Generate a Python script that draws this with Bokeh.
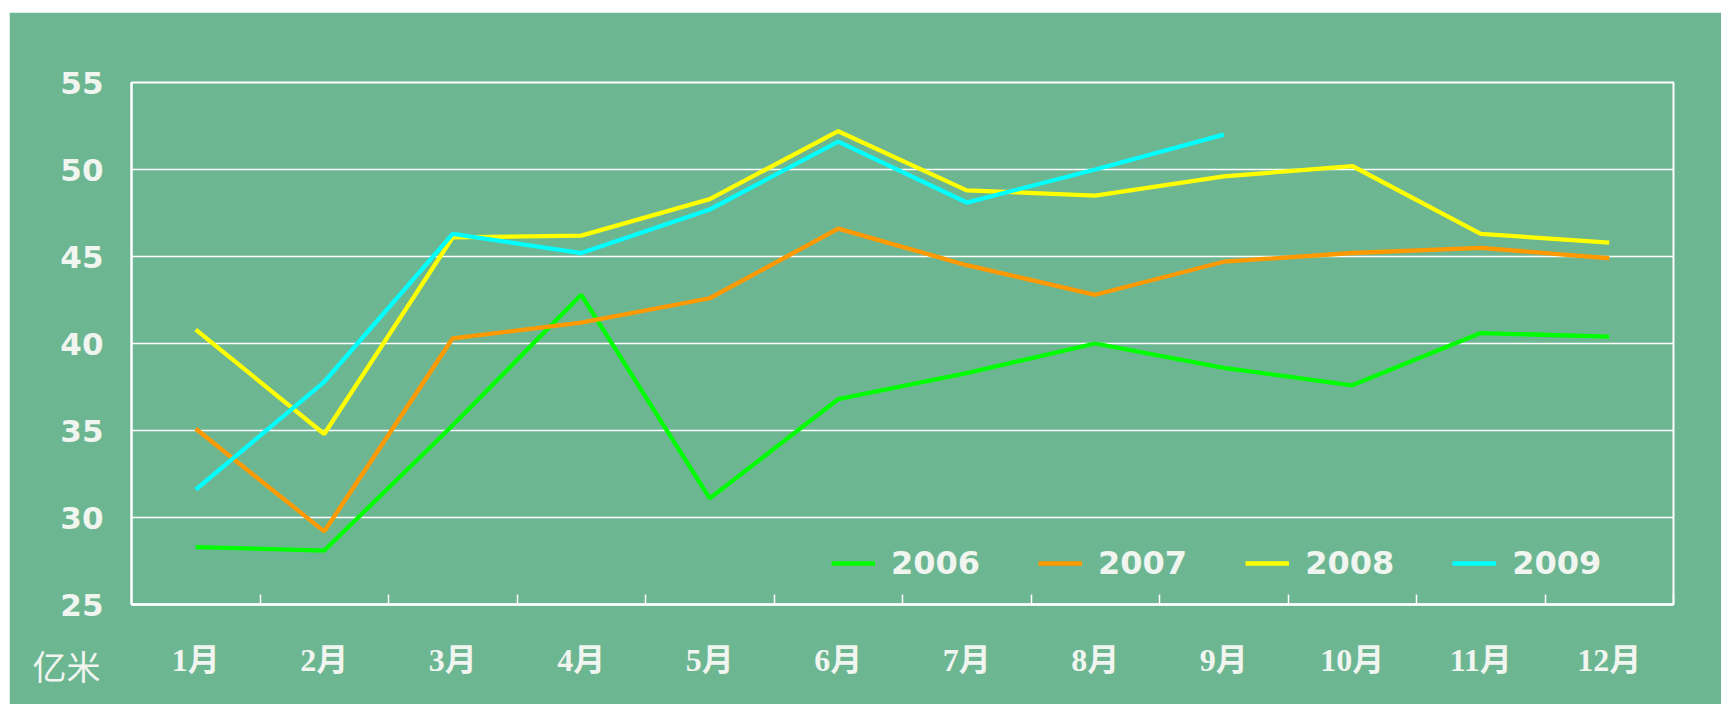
from bokeh.plotting import figure
from bokeh.models import FixedTicker, Legend, LegendItem, Range1d, Spacer, Title
from bokeh.layouts import column, row
from bokeh.embed import file_html
from bokeh.resources import INLINE
import numpy as np

months = ["1月", "2月", "3月", "4月", "5月", "6月", "7月", "8月", "9月", "10月", "11月", "12月"]
y2006 = [28.3, 28.1, 35.3, 42.8, 31.1, 36.8, 38.3, 40.0, 38.6, 37.6, 40.6, 40.4]
y2007 = [35.1, 29.2, 40.3, 41.2, 42.6, 46.6, 44.5, 42.8, 44.7, 45.2, 45.5, 44.9]
y2008 = [40.8, 34.8, 46.1, 46.2, 48.3, 52.2, 48.8, 48.5, 49.6, 50.2, 46.3, 45.8]
y2009 = [31.6, 37.8, 46.3, 45.2, 47.7, 51.6, 48.1, 50.0, 52.0]
years = ["2006", "2007", "2008", "2009"]
yticks = [25, 30, 35, 40, 45, 50, 55]
unit_label = "亿米"

BG = "#6db692"
TXT = "#f0f5f0"
colors = ["#00ff00", "#ff9900", "#ffff00", "#00ffff"]

p = figure(width=1712, height=692, output_backend="svg", toolbar_location=None,
           x_range=Range1d(0, len(months)), y_range=Range1d(25, 55),
           min_border_left=122, min_border_right=48, min_border_top=70, min_border_bottom=100)
p.background_fill_color = BG
p.border_fill_color = BG
p.outline_line_color = "white"
p.outline_line_width = 2

xs = np.arange(len(months)) + 0.5

p.xaxis.ticker = FixedTicker(ticks=list(xs), minor_ticks=list(range(1, len(months) + 1)))
p.xaxis.major_label_overrides = {float(x): m for x, m in zip(xs, months)}
p.xaxis.major_tick_in = 0
p.xaxis.major_tick_out = 0
p.xaxis.minor_tick_in = 10
p.xaxis.minor_tick_out = 0
p.xaxis.minor_tick_line_color = "white"
p.xaxis.minor_tick_line_width = 1.5
p.xaxis.axis_line_color = "white"
p.xaxis.axis_line_width = 2.5
p.xaxis.major_label_standoff = 37
p.xaxis.major_label_text_font = "'Liberation Serif', 'Noto Sans CJK SC'"
p.xaxis.major_label_text_font_style = "bold"
p.xaxis.major_label_text_font_size = "32px"
p.xaxis.major_label_text_color = TXT

p.yaxis.ticker = FixedTicker(ticks=yticks)
p.yaxis.major_tick_in = 0
p.yaxis.major_tick_out = 0
p.yaxis.minor_tick_line_color = None
p.yaxis.axis_line_color = "white"
p.yaxis.axis_line_width = 2
p.yaxis.major_label_standoff = 28
p.yaxis.major_label_text_font = "DejaVu Sans"
p.yaxis.major_label_text_font_style = "bold"
p.yaxis.major_label_text_font_size = "31px"
p.yaxis.major_label_text_color = TXT

p.xgrid.grid_line_color = None
p.ygrid.ticker = FixedTicker(ticks=yticks)
p.ygrid.grid_line_color = "white"
p.ygrid.grid_line_width = 1.5

series = [y2006, y2007, y2008, y2009]
items = []
for name, ys, c in zip(years, series, colors):
    r = p.line(xs[:len(ys)], ys, line_color=c, line_width=4.3)
    items.append(LegendItem(label=name, renderers=[r]))

legend = Legend(items=items, orientation="horizontal", location=(700, 22),
                glyph_width=44, glyph_height=20, label_standoff=16, spacing=58,
                padding=0, margin=0, border_line_alpha=0, background_fill_alpha=0,
                label_text_font="DejaVu Sans", label_text_font_style="bold",
                label_text_font_size="32px", label_text_color=TXT)
p.add_layout(legend, "center")

p.add_layout(Title(text=unit_label, align="left", vertical_align="top", offset=-99, standoff=-80,
                   text_font="Noto Sans CJK SC", text_font_size="34px", text_color=TXT,
                   text_font_style="normal"), "below")

layout = column(Spacer(height=12), row(Spacer(width=9), p))
open("out.html", "w").write(file_html(layout, INLINE))
